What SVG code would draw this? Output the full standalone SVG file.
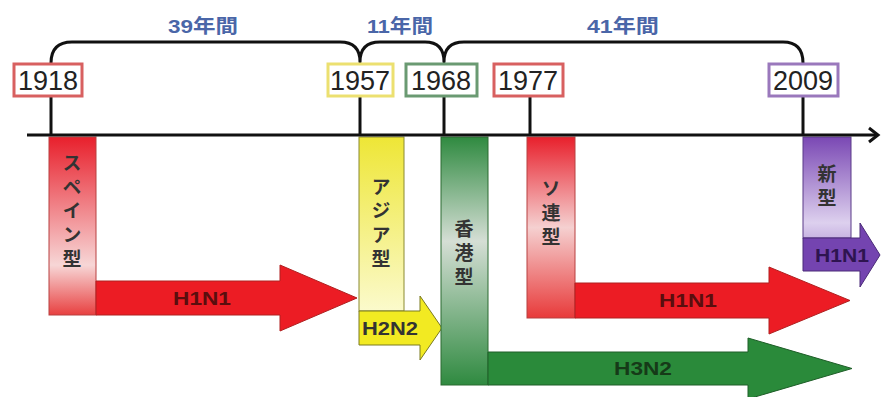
<svg xmlns="http://www.w3.org/2000/svg" width="881" height="397" viewBox="0 0 881 397">
<defs>
<style>
.yr{fill:#fff;stroke-width:3}
.yt{font-family:"Liberation Sans",Arial,sans-serif;font-size:27px;fill:#222;text-anchor:middle}
.ln{fill:none;stroke:#111;stroke-width:3}
.br{fill:none;stroke:#111;stroke-width:3;stroke-linejoin:round}
.bl{font-family:"Liberation Sans","Noto Sans CJK JP",sans-serif;font-size:19px;font-weight:bold;fill:#4a66a8;text-anchor:middle}
.vt{font-family:"Noto Sans CJK JP",sans-serif;font-size:19px;font-weight:bold;fill:#333;writing-mode:vertical-rl;letter-spacing:5px}
.al{font-family:"Liberation Sans",Arial,sans-serif;font-size:18px;font-weight:bold;text-anchor:middle}
</style>
<linearGradient id="gRed" x1="0" y1="0" x2="0" y2="1">
<stop offset="0" stop-color="#e8202c"/>
<stop offset="0.72" stop-color="#f7d6d6"/>
<stop offset="1" stop-color="#e84040"/>
</linearGradient>
<linearGradient id="gRed2" x1="0" y1="0" x2="0" y2="1">
<stop offset="0" stop-color="#e8202c"/>
<stop offset="0.5" stop-color="#f5d0d0"/>
<stop offset="1" stop-color="#e83a3a"/>
</linearGradient>
<linearGradient id="gYel" x1="0" y1="0" x2="0" y2="1">
<stop offset="0" stop-color="#eee636"/>
<stop offset="1" stop-color="#fbfacc"/>
</linearGradient>
<linearGradient id="gGrn" x1="0" y1="0" x2="0" y2="1">
<stop offset="0" stop-color="#2f8a40"/>
<stop offset="0.42" stop-color="#d5ded5"/>
<stop offset="1" stop-color="#2f8a40"/>
</linearGradient>
<linearGradient id="gPur" x1="0" y1="0" x2="0" y2="1">
<stop offset="0" stop-color="#7a48b4"/>
<stop offset="0.85" stop-color="#ddd0ee"/>
<stop offset="1" stop-color="#c8b4e2"/>
</linearGradient>
</defs>

<g id="connectors">
<path class="br" d="M51,63 Q51,42 72,42 L340,42 Q360,42 360,62 Q360,42 380,42 L425,42 Q444,42 444,62 Q444,42 464,42 L783,42 Q803,42 803,63"/>
<line class="ln" x1="51" y1="96" x2="51" y2="135"/>
<line class="ln" x1="360" y1="96" x2="360" y2="135"/>
<line class="ln" x1="444" y1="96" x2="444" y2="135"/>
<line class="ln" x1="530" y1="96" x2="530" y2="135"/>
<line class="ln" x1="803" y1="96" x2="803" y2="135"/>
</g>

<g id="label-39"><text class="bl" x="203" y="33" textLength="70" lengthAdjust="spacingAndGlyphs">39年間</text></g>
<g id="label-11"><text class="bl" x="400" y="33" textLength="66" lengthAdjust="spacingAndGlyphs">11年間</text></g>
<g id="label-41"><text class="bl" x="623" y="33" textLength="72" lengthAdjust="spacingAndGlyphs">41年間</text></g>

<g id="spain">
<rect x="49" y="137" width="47" height="178" fill="url(#gRed)" stroke="#b84040" stroke-width="1"/>
<text class="vt" x="72" y="153">スペイン型</text>
<polygon points="96,281 280,281 280,265 357,298 280,331 280,315 96,315" fill="#ec1c24" stroke="#b02020" stroke-width="1"/>
<text class="al" x="202" y="305" fill="#5a0e0e" textLength="58" lengthAdjust="spacingAndGlyphs">H1N1</text>
</g>

<g id="asia">
<rect x="359" y="137" width="45" height="174" fill="url(#gYel)" stroke="#8a8a30" stroke-width="1"/>
<text class="vt" x="381" y="177">アジア型</text>
<polygon points="359,311 420,311 420,296 442,328 420,360 420,345 359,345" fill="#f2ea22" stroke="#7a7a20" stroke-width="1"/>
<text class="al" x="390" y="335" fill="#333" textLength="56" lengthAdjust="spacingAndGlyphs">H2N2</text>
</g>

<g id="hongkong">
<rect x="441" y="137" width="47" height="248" fill="url(#gGrn)" stroke="#2a6a30" stroke-width="1"/>
<text class="vt" x="464" y="219">香港型</text>
<polygon points="488,352 748,352 748,338 852,368.5 748,399 748,385 488,385" fill="#2a8a3a" stroke="#1e5e28" stroke-width="1"/>
<text class="al" x="643" y="375" fill="#163a18" textLength="58" lengthAdjust="spacingAndGlyphs">H3N2</text>
</g>

<g id="soviet">
<rect x="527" y="137" width="48" height="181" fill="url(#gRed2)" stroke="#b84040" stroke-width="1"/>
<text class="vt" x="551" y="179">ソ連型</text>
<polygon points="575,283 769,283 769,267 850,300.5 769,334 769,318 575,318" fill="#ec1c24" stroke="#b02020" stroke-width="1"/>
<text class="al" x="688" y="307" fill="#5a0e0e" textLength="58" lengthAdjust="spacingAndGlyphs">H1N1</text>
</g>

<g id="new">
<rect x="803" y="137" width="48" height="101" fill="url(#gPur)" stroke="#5a3a88" stroke-width="1"/>
<text class="vt" x="827" y="164">新型</text>
<polygon points="803,238 860,238 860,223 880,255 860,287 860,271 803,271" fill="#7444b0" stroke="#4a2a78" stroke-width="1"/>
<text class="al" x="842" y="262" fill="#2e1450" textLength="54" lengthAdjust="spacingAndGlyphs">H1N1</text>
</g>

<g id="axis">
<line class="ln" x1="27" y1="135" x2="878" y2="135"/>
<polyline class="ln" points="869,128 878,135 869,142"/>
</g>

<g id="y1918"><rect class="yr" x="14" y="64" width="68" height="32" stroke="#d86060"/><text class="yt" x="48" y="90">1918</text></g>
<g id="y1957"><rect class="yr" x="328" y="64" width="65" height="32" stroke="#ece070"/><text class="yt" x="360" y="90">1957</text></g>
<g id="y1968"><rect class="yr" x="406" y="64" width="71" height="32" stroke="#6a9a72"/><text class="yt" x="441" y="90">1968</text></g>
<g id="y1977"><rect class="yr" x="494" y="64" width="69" height="32" stroke="#d86060"/><text class="yt" x="528" y="90">1977</text></g>
<g id="y2009"><rect class="yr" x="769" y="64" width="69" height="32" stroke="#9a78bc"/><text class="yt" x="803" y="90">2009</text></g>
</svg>
